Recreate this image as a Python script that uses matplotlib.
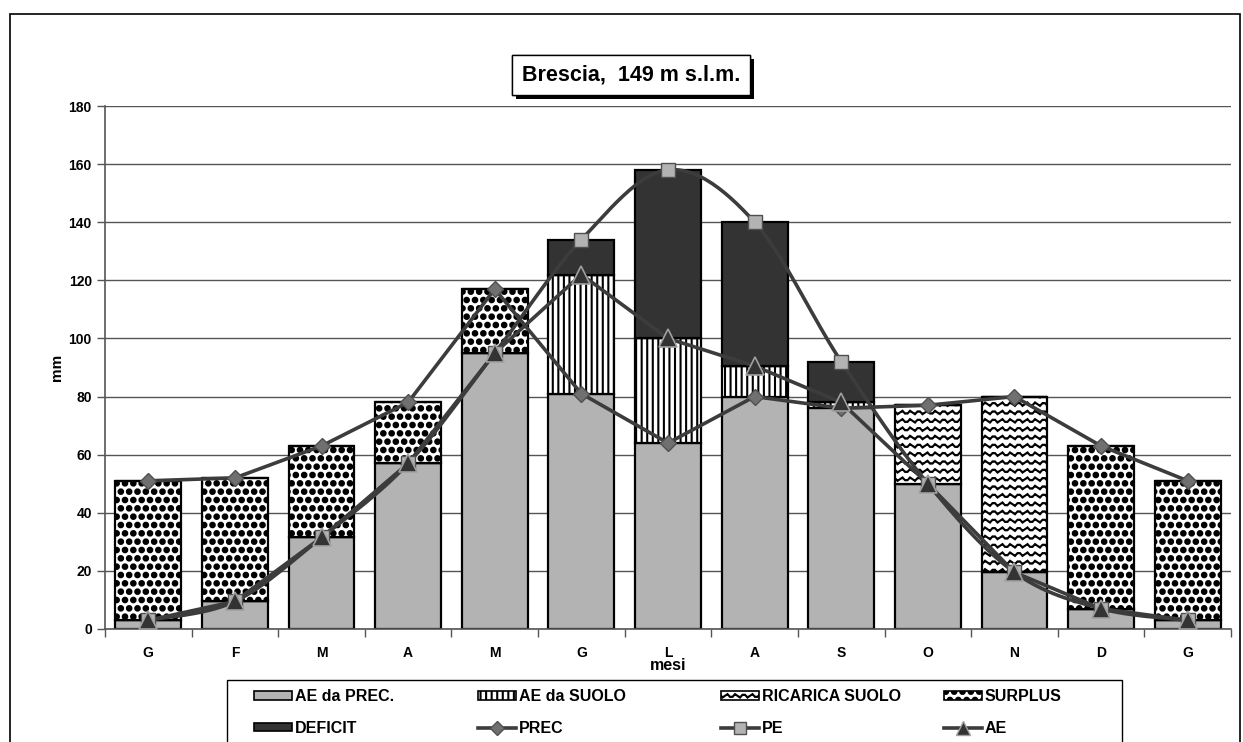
import numpy as np
import matplotlib
matplotlib.use("Agg")
import matplotlib.pyplot as plt
import matplotlib.hatch as mhatch
from matplotlib.patches import Patch, Rectangle
from matplotlib.lines import Line2D
import matplotlib.patheffects as pe
from matplotlib.path import Path

# ---------------- data ----------------
months = ["G", "F", "M", "A", "M", "G", "L", "A", "S", "O", "N", "D", "G"]
ae_prec = [3, 9.5, 31.5, 57, 95, 81, 64, 80, 76, 50, 19.5, 7, 3]
ae_suolo = [0, 0, 0, 0, 0, 41, 36, 10.5, 2, 0, 0, 0, 0]
ricarica = [0, 0, 0, 0, 0, 0, 0, 0, 0, 27, 60.5, 0, 0]
surplus = [48, 42.5, 31.5, 21, 22, 0, 0, 0, 0, 0, 0, 56, 48]
deficit = [0, 0, 0, 0, 0, 12, 58, 49.5, 14, 0, 0, 0, 0]
prec = [51, 52, 63, 78, 117, 81, 64, 80, 76, 77, 80, 63, 51]
pe_vals = [3, 9.5, 31.5, 57, 95, 134, 158, 140, 92, 50, 19.5, 7, 3]
ae_vals = [3, 9.5, 31.5, 57, 95, 122, 100, 90.5, 78, 50, 19.5, 7, 3]
yticks = [0, 20, 40, 60, 80, 100, 120, 140, 160, 180]


# ---------------- custom hatches ----------------
class WaveHatch(mhatch.HatchPatternBase):
    npts = 41

    def __init__(self, hatch, density):
        self.num_rows = int(hatch.count('~') * density)
        self.num_vertices = self.num_rows * self.npts

    def set_vertices_and_codes(self, vertices, codes):
        if self.num_rows == 0:
            return
        xs = np.linspace(0, 1, self.npts)
        k = self.num_rows
        amp = 0.22 / self.num_rows
        idx = 0
        for i in range(self.num_rows):
            y0 = (i + 0.5) / self.num_rows
            ys = y0 + amp * np.sin(2 * np.pi * k * xs)
            vertices[idx:idx + self.npts, 0] = xs
            vertices[idx:idx + self.npts, 1] = ys
            codes[idx] = Path.MOVETO
            codes[idx + 1:idx + self.npts] = Path.LINETO
            idx += self.npts


class BigDots(mhatch.Shapes):
    size = 0.27
    filled = True

    def __init__(self, hatch, density):
        self.num_rows = int(hatch.count('@') * density)
        path = Path.unit_circle()
        self.shape_vertices = path.vertices
        self.shape_codes = path.codes
        super().__init__(hatch, density)


mhatch._hatch_types.append(WaveHatch)
mhatch._hatch_types.append(BigDots)

plt.rcParams['font.family'] = ['Liberation Sans', 'DejaVu Sans']
plt.rcParams['font.weight'] = 'bold'
plt.rcParams['hatch.linewidth'] = 1.5

fig = plt.figure(figsize=(12.43, 7.42), dpi=100)
ax = fig.add_axes([105 / 1243, 1 - 629 / 742, (1231 - 105) / 1243, (629 - 106) / 742])

x = np.arange(len(months))
w = 0.76
edge = dict(edgecolor='black', linewidth=1.6)

b = np.zeros(len(months))
ax.bar(x, ae_prec, w, bottom=b, color='#b3b3b3', zorder=2, **edge)
b += ae_prec
plt.rcParams['hatch.color'] = '#8a8a8a'
ax.bar(x, ae_suolo, w, bottom=b, color='white', hatch='|||', zorder=2, **edge)
b += ae_suolo
plt.rcParams['hatch.color'] = '#8f8f8f'
ax.bar(x, ricarica, w, bottom=b, color='white', hatch='~~', zorder=2, **edge)
b += ricarica
plt.rcParams['hatch.color'] = '#636363'
ax.bar(x, surplus, w, bottom=b, color='white', hatch='@@', zorder=2, **edge)
b += surplus
ax.bar(x, deficit, w, bottom=b, color='#333333', zorder=2, **edge)


def smooth(xv, yv, n=30):
    xv = np.asarray(xv, float)
    yv = np.asarray(yv, float)
    P = np.column_stack([xv, yv])
    out = []
    for i in range(len(P) - 1):
        p0 = P[i - 1] if i > 0 else P[i]
        p1 = P[i]
        p2 = P[i + 1]
        p3 = P[i + 2] if i + 2 < len(P) else P[i + 1]
        c1 = p1 + (p2 - p0) / 6
        c2 = p2 - (p3 - p1) / 6
        t = np.linspace(0, 1, n)[:, None]
        seg = ((1 - t) ** 3) * p1 + 3 * ((1 - t) ** 2) * t * c1 + 3 * (1 - t) * t ** 2 * c2 + t ** 3 * p2
        out.append(seg if i == 0 else seg[1:])
    s = np.vstack(out)
    return s[:, 0], s[:, 1]


lc = '#3c3c3c'
ax.plot(x, prec, color=lc, lw=2.6, zorder=4)
ax.plot(x, prec, ls='none', marker='D', ms=8, mfc='#707070', mec='#505050', mew=1, zorder=5)
sx, sy = smooth(x, pe_vals)
ax.plot(sx, sy, color=lc, lw=2.6, zorder=4)
ax.plot(x, pe_vals, ls='none', marker='s', ms=10, mfc='#b3b3b3', mec='#505050', mew=1, zorder=5)
ax.plot(x, ae_vals, color=lc, lw=2.6, zorder=4)
ax.plot(x, ae_vals, ls='none', marker='^', ms=13, mfc='#333333', mec='#a0a0a0', mew=1.2, zorder=6)

ax.set_xlim(-0.5, len(months) - 0.5)
ax.set_ylim(0, 180)
ax.set_yticks(yticks)
ax.set_yticklabels([str(v) for v in yticks], fontsize=10, fontweight='bold')
ax.set_xticks(x)
ax.set_xticklabels(months, fontsize=10, fontweight='bold')
ax.tick_params(axis='x', length=0, pad=12)
ax.set_xticks(np.arange(-0.5, len(months) + 0.5, 1), minor=True)
ax.tick_params(axis='x', which='minor', length=6, direction='out', width=1, color='#555555')
ax.tick_params(axis='y', length=6, direction='out', width=1, color='#555555')
ax.grid(axis='y', color='#555555', lw=1, zorder=0)
ax.set_axisbelow(True)
for s in ['top', 'right']:
    ax.spines[s].set_visible(False)
for s in ['left', 'bottom']:
    ax.spines[s].set_color('#555555')
    ax.spines[s].set_linewidth(1.2)
ax.set_xlabel('mesi', fontsize=11.5, fontweight='bold', labelpad=-1)
ax.set_ylabel('mm', fontsize=11, fontweight='bold', labelpad=3)

# title box with shadow
t = fig.text(631 / 1243, 1 - 75 / 742, 'Brescia,  149 m s.l.m.', ha='center', va='center',
             fontsize=15.5, fontweight='bold',
             bbox=dict(boxstyle='square,pad=0.45', fc='white', ec='black', lw=1))
t.get_bbox_patch().set_path_effects([pe.withSimplePatchShadow(offset=(3, -3), shadow_rgbFace='black', alpha=1),
                                     pe.Normal()])

# outer border
fig.patches.append(Rectangle((10 / 1243, -0.05), (1240 - 10) / 1243, 1 - 14 / 742 + 0.05,
                             transform=fig.transFigure, fill=False, ec='black', lw=1.2))

# legend (frame + four columns)
fig.patches.append(Rectangle((227 / 1243, -0.05), (1122 - 227) / 1243, 1 - 680 / 742 + 0.05,
                             transform=fig.transFigure, fc='white', ec='black', lw=1.0, zorder=3))
plt.rcParams['hatch.color'] = '#8a8a8a'
h1 = Patch(fc='#b3b3b3', ec='black', lw=1.2, label='AE da PREC.')
h2 = Patch(fc='white', ec='black', lw=1.2, hatch='|||', label='AE da SUOLO')
plt.rcParams['hatch.color'] = '#8f8f8f'
h3 = Patch(fc='white', ec='black', lw=1.2, hatch='~~', label='RICARICA SUOLO')
plt.rcParams['hatch.color'] = '#636363'
h4 = Patch(fc='white', ec='black', lw=1.2, hatch='@@', label='SURPLUS')
h5 = Patch(fc='#333333', ec='black', lw=1.2, label='DEFICIT')
h6 = Line2D([], [], color=lc, lw=2.6, marker='D', ms=7, mfc='#707070', mec='#505050', label='PREC')
h7 = Line2D([], [], color=lc, lw=2.6, marker='s', ms=9, mfc='#b3b3b3', mec='#505050', label='PE')
h8 = Line2D([], [], color=lc, lw=2.6, marker='^', ms=10, mfc='#333333', mec='#a0a0a0', label='AE')
columns = [[h1, h5], [h2, h6], [h3, h7], [h4, h8]]
col_x = [254, 478, 721, 944]
for hs, cx in zip(columns, col_x):
    lg = fig.legend(handles=hs, loc='upper left', bbox_to_anchor=(cx / 1243, 1 - 689 / 742),
                    frameon=False, borderpad=0, borderaxespad=0,
                    handlelength=2.4, handleheight=0.45, handletextpad=0.15, labelspacing=1.05,
                    prop=dict(weight='bold', size=11.5))
    lg.set_zorder(4)

fig.savefig('out.png', dpi=100)
